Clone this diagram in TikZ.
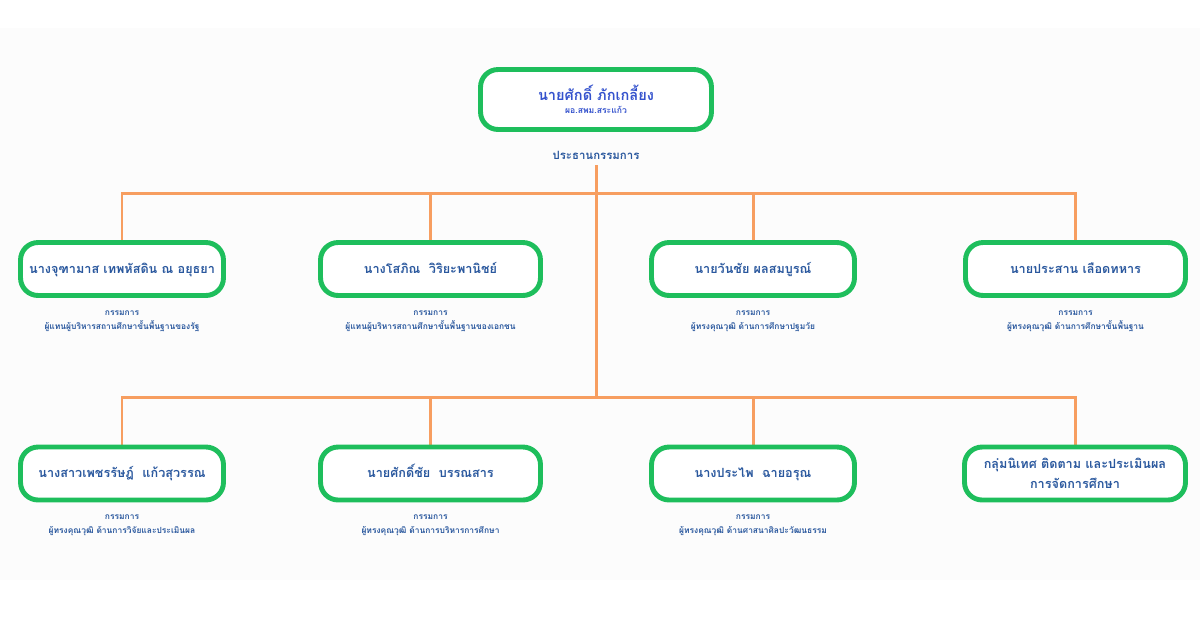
\documentclass[tikz,border=0pt]{standalone}
\usepackage{fontspec}
\usetikzlibrary{backgrounds}
\newfontfamily\thaifont[Script=Thai]{Loma}
\definecolor{boxgreen}{RGB}{30,190,92}
\definecolor{linkorange}{RGB}{247,158,96}
\definecolor{nameblue}{RGB}{42,88,158}
\definecolor{headblue}{RGB}{52,82,205}
\definecolor{panelgray}{RGB}{252,252,252}
\tikzset{
  person/.style={draw=boxgreen, line width=2.8pt, rounded corners=10pt, fill=white,
    minimum width=4.06cm, minimum height=1.06cm, inner sep=2pt, align=center,
    text=nameblue, font=\thaifont\bfseries\fontsize{7.2}{11.5}\selectfont},
  oneline/.style={text height=1.7ex, text depth=0.6ex},
  role/.style={text=nameblue, align=center, font=\thaifont\bfseries\fontsize{4.8}{8}\selectfont},
  link/.style={draw=linkorange, line width=1.7pt},
}
\begin{document}
\begin{tikzpicture}[x=0.02cm,y=-0.02cm]
\useasboundingbox (0,0) rectangle (1200,630);

% ประธาน
\node[person, minimum width=4.62cm, minimum height=1.2cm, text=headblue] (chair) at (596,99.5)
  {{\fontsize{8.3}{10}\selectfont นายศักดิ์ ภักเกลี้ยง}\\[-4pt]{\fontsize{4.9}{6}\selectfont ผอ.สพม.สระแก้ว}};
\node[role, font=\thaifont\bfseries\fontsize{6.5}{8}\selectfont] (chairrole) at (596,155) {ประธานกรรมการ};

% แถวบน
\node[person, oneline] (m1) at (122,269) {นางจุฑามาส เทพหัสดิน ณ อยุธยา};
\node[person, oneline, minimum width=4.40cm] (m2) at (430.5,269) {นางโสภิณ\ \ วิริยะพานิชย์};
\node[person, oneline] (m3) at (753,269) {นายวันชัย ผลสมบูรณ์};
\node[person, oneline, minimum width=4.40cm] (m4) at (1075.5,269) {นายประสาน เลือดทหาร};

\node[role] (r1) at (122,321) {กรรมการ\\ผู้แทนผู้บริหารสถานศึกษาขั้นพื้นฐานของรัฐ};
\node[role] (r2) at (430.5,321) {กรรมการ\\ผู้แทนผู้บริหารสถานศึกษาขั้นพื้นฐานของเอกชน};
\node[role] (r3) at (753,321) {กรรมการ\\ผู้ทรงคุณวุฒิ ด้านการศึกษาปฐมวัย};
\node[role] (r4) at (1075.5,321) {กรรมการ\\ผู้ทรงคุณวุฒิ ด้านการศึกษาขั้นพื้นฐาน};

% แถวล่าง
\node[person, oneline] (m5) at (122,473.5) {นางสาวเพชรรัษฎ์\ \ แก้วสุวรรณ};
\node[person, oneline, minimum width=4.40cm] (m6) at (430.5,473.5) {นายศักดิ์ชัย\ \ บรรณสาร};
\node[person, oneline] (m7) at (753,473.5) {นางประไพ\ \ ฉายอรุณ};
\node[person, minimum width=4.42cm] (m8) at (1075,473.5) {กลุ่มนิเทศ ติดตาม และประเมินผล\\การจัดการศึกษา};

\node[role] (r5) at (122,525) {กรรมการ\\ผู้ทรงคุณวุฒิ ด้านการวิจัยและประเมินผล};
\node[role] (r6) at (430.5,525) {กรรมการ\\ผู้ทรงคุณวุฒิ ด้านการบริหารการศึกษา};
\node[role] (r7) at (753,525) {กรรมการ\\ผู้ทรงคุณวุฒิ ด้านศาสนาศิลปะวัฒนธรรม};

\coordinate (upbus) at (596,193);
\coordinate (lowbus) at (596,397);

\begin{scope}[on background layer]
\fill[panelgray] (0,28) rectangle (1200,580); % พื้น
\draw[link] (chairrole.south) -- (lowbus);
\draw[link] (m1.north) -- (m1.north |- upbus) -- (m4.north |- upbus) -- (m4.north);
\draw[link] (m2.north) -- (m2.north |- upbus);
\draw[link] (m3.north) -- (m3.north |- upbus);
\draw[link] (m5.north) -- (m5.north |- lowbus) -- (m8.north |- lowbus) -- (m8.north);
\draw[link] (m6.north) -- (m6.north |- lowbus);
\draw[link] (m7.north) -- (m7.north |- lowbus);
\end{scope}
\end{tikzpicture}
\end{document}
